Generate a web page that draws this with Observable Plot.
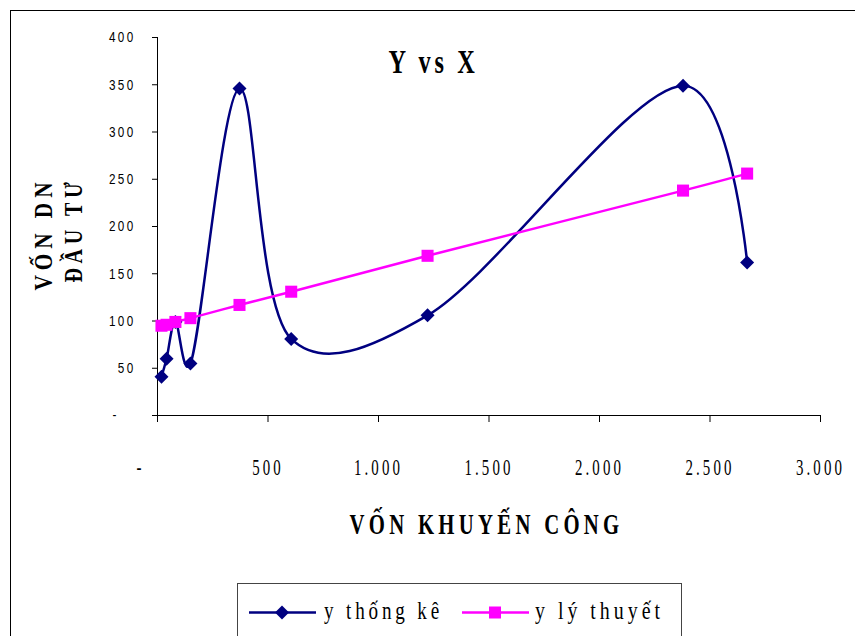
<!DOCTYPE html>
<html>
<head>
<meta charset="utf-8">
<script src="https://cdn.jsdelivr.net/npm/d3@7"></script>
<script src="https://cdn.jsdelivr.net/npm/@observablehq/plot@0.6"></script>
<style>
  body { margin: 0; background: #fff; }
  #wrap { position: relative; width: 855px; height: 636px; overflow: hidden; background: #fff; }
  #frame { position: absolute; left: 10px; top: 10px; width: 900px; height: 700px;
           border-left: 1.5px solid #000; border-top: 1.5px solid #000; }
  #chart { position: absolute; left: 0; top: 0; }
  #legend { position: absolute; left: 237px; top: 583px; width: 443px; height: 80px;
            border: 1px solid #444; background: #fff; }
</style>
</head>
<body>
<div id="wrap">
  <div id="frame"></div>
  <div id="chart"></div>
  <div id="legend"></div>
</div>
<script>
// Vốn khuyến công (x) against vốn doanh nghiệp đầu tư (y)
const xVals      = [18, 41, 81, 149, 371, 605, 1222, 2378, 2668];
const yThongKe   = [41, 60, 99, 55, 346, 81, 106, 349, 162];
const yLyThuyet  = [95, 96, 99, 103, 117, 131, 169, 238, 256];
const xTicks     = [0, 500, 1000, 1500, 2000, 2500, 3000];
const yTicks     = [0, 50, 100, 150, 200, 250, 300, 350, 400];
const seriesNames  = ["y thống kê", "y lý thuyết"];
const seriesColors = ["#000080", "#FF00FF"];
const chartTitle   = "Y vs X";
const xTitle       = "VỐN KHUYẾN CÔNG";
const yTitleLines  = ["VỐN DN", "ĐẦU TƯ"];

const serif = "'Liberation Serif', 'Times New Roman', serif";
const sans  = "'Liberation Sans', Arial, sans-serif";

const vn = d3.formatLocale({decimal: ",", thousands: ".", grouping: [3], currency: ["", ""]});
const fmt = vn.format(",");
const nb = n => "\u00a0".repeat(n);

const rowsTK = xVals.map((x, i) => ({x, y: yThongKe[i]}));
const rowsLT = xVals.map((x, i) => ({x, y: yLyThuyet[i]}));

const H = 583;
const smooth = {curve: "catmull-rom", tension: 0.2};
const chart = Plot.plot({
  width: 855,
  height: H,
  marginLeft: 157,
  marginRight: 35,
  marginTop: 37,
  marginBottom: H - 415,
  style: {background: "transparent", overflow: "visible", color: "#000"},
  x: {domain: [0, 3000], label: null},
  y: {domain: [0, 400], label: null},
  marks: [
    Plot.axisY(yTicks, {
      tickSize: 5, tickPadding: 17, label: null, className: "ytick",
      tickFormat: d => d === 0 ? "-" + nb(3) : fmt(d),
      fontFamily: sans, fontSize: 15
    }),
    Plot.axisX(xTicks, {
      tickSize: 7, tickPadding: 35, label: null, className: "xtick",
      tickFormat: d => d === 0 ? "-" + nb(5) : fmt(d),
      fontFamily: serif, fontSize: 24
    }),
    Plot.ruleX([0], {stroke: "#000", strokeWidth: 1}),
    Plot.ruleY([0], {stroke: "#000", strokeWidth: 1}),
    Plot.line(rowsTK, {x: "x", y: "y", stroke: seriesColors[0], strokeWidth: 2.5, ...smooth}),
    Plot.line(rowsLT, {x: "x", y: "y", stroke: seriesColors[1], strokeWidth: 2.5, ...smooth}),
    Plot.dot(rowsTK, {x: "x", y: "y", symbol: "diamond2", r: 6.3, fill: seriesColors[0], stroke: "none"}),
    Plot.dot(rowsLT, {x: "x", y: "y", symbol: "square", r: 6.8, fill: seriesColors[1], stroke: "none"}),
    Plot.text([chartTitle], {
      frameAnchor: "top", text: d => d, dx: -55.5, dy: 35, lineAnchor: "bottom",
      fontFamily: serif, fontWeight: "bold", fontSize: 33, className: "ctitle"
    }),
    Plot.text([xTitle], {
      frameAnchor: "bottom", text: d => d, dx: -2.5, dy: 118, lineAnchor: "bottom",
      fontFamily: serif, fontWeight: "bold", fontSize: 29, className: "xtitle"
    }),
    Plot.text([yTitleLines[0]], {
      frameAnchor: "left", text: d => d, rotate: -90, textAnchor: "start", dx: -113.5, dy: 64,
      fontFamily: serif, fontWeight: "bold", fontSize: 26, className: "ytitle1"
    }),
    Plot.text([yTitleLines[1]], {
      frameAnchor: "left", text: d => d, rotate: -90, textAnchor: "start", dx: -84, dy: 56,
      fontFamily: serif, fontWeight: "bold", fontSize: 26, className: "ytitle2"
    })
  ]
});
document.getElementById("chart").appendChild(chart);

// Narrow, letter-spaced lettering: compress each text run horizontally
function squeeze(sel, k) {
  sel.each(function () {
    const L = this.getComputedTextLength();
    if (L > 0) {
      this.setAttribute("textLength", (L * k).toFixed(1));
      this.setAttribute("lengthAdjust", "spacingAndGlyphs");
    }
  });
}
function fitTo(sel, w) {
  sel.each(function () {
    this.setAttribute("textLength", w);
    this.setAttribute("lengthAdjust", "spacingAndGlyphs");
  });
}
const svg = d3.select(chart);
svg.selectAll(".ytick text").style("letter-spacing", "3px");
squeeze(svg.selectAll(".ytick text"), 0.78);
svg.selectAll(".xtick text").style("letter-spacing", "5px");
squeeze(svg.selectAll(".xtick text"), 0.62);
svg.selectAll(".ctitle text").style("letter-spacing", "5px");
fitTo(svg.selectAll(".ctitle text"), 90);
svg.selectAll(".xtitle text").style("letter-spacing", "6px");
fitTo(svg.selectAll(".xtitle text"), 274);
svg.selectAll(".ytitle1 text").style("letter-spacing", "6px");
fitTo(svg.selectAll(".ytitle1 text"), 113);
svg.selectAll(".ytitle2 text").style("letter-spacing", "6px");
fitTo(svg.selectAll(".ytitle2 text"), 105);

// Legend: line + marker swatch for each series
const leg = d3.select("#legend").append("svg").attr("width", 443).attr("height", 60);
const swX = [11, 224], txX = [86, 297], txW = [119, 129];
seriesNames.forEach((name, i) => {
  const g = leg.append("g");
  g.append("line").attr("x1", swX[i]).attr("x2", swX[i] + 67).attr("y1", 28.5).attr("y2", 28.5)
    .attr("stroke", seriesColors[i]).attr("stroke-width", 2.5);
  const cx = swX[i] + 33, cy = 28.5;
  if (i === 0) {
    g.append("path").attr("d", `M${cx},${cy - 7}L${cx + 7},${cy}L${cx},${cy + 7}L${cx - 7},${cy}Z`).attr("fill", seriesColors[i]);
  } else {
    g.append("rect").attr("x", cx - 6).attr("y", cy - 6).attr("width", 12).attr("height", 12).attr("fill", seriesColors[i]);
  }
  g.append("text").attr("x", txX[i]).attr("y", 35).text(name)
    .style("font-family", serif).style("font-size", "25px").style("letter-spacing", "5px")
    .attr("textLength", txW[i]).attr("lengthAdjust", "spacingAndGlyphs");
});
</script>
</body>
</html>
